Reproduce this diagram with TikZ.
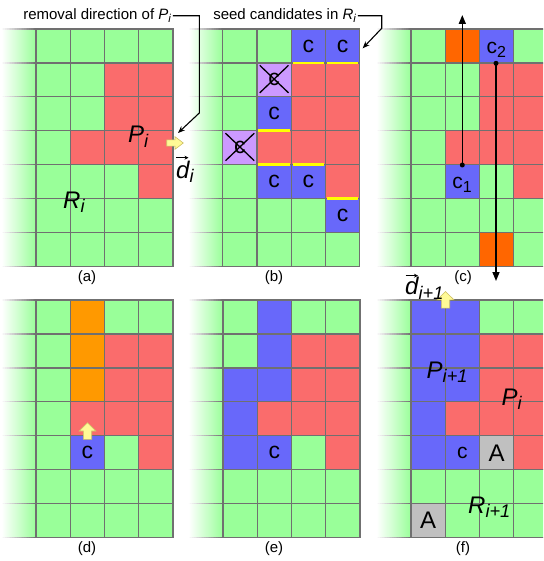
\documentclass[tikz,border=0pt]{standalone}
\usepackage{fontspec}
\setmainfont{Liberation Sans}
\renewcommand{\defaultscriptratio}{.76}
\usetikzlibrary{arrows.meta}
\definecolor{cG}{RGB}{153,255,153}
\definecolor{cR}{RGB}{250,108,108}
\definecolor{cB}{RGB}{104,104,250}
\definecolor{cO}{RGB}{255,102,0}
\definecolor{cY}{RGB}{255,153,0}
\definecolor{cA}{RGB}{192,192,192}
\definecolor{cP}{RGB}{204,153,255}
\definecolor{gridc}{RGB}{112,112,112}
\definecolor{seamc}{RGB}{255,255,0}
\definecolor{yafill}{RGB}{255,250,150}
\definecolor{yadraw}{RGB}{205,190,100}

\newcommand{\mycells}[1]{%
  \shade[left color=white,right color=cG] (0,0) rectangle (1,7);
  \foreach \rr [count=\j from 0] in {#1} {
    \foreach \cc [count=\i] in \rr { \fill[fill=c\cc] (\i,\j) rectangle ++(1,1); }
  }}
\newcommand{\mygrid}{%
  \foreach \j in {0,...,7} {
    \foreach \k [evaluate=\k as \p using int(5*\k+3)] in {0,...,19}
      \draw[line width=1.2pt, draw=gridc!\p!white] ({\k/20},\j) -- ({(\k+1)/20},\j);
    \draw[gl] (1,\j) -- (5,\j);
  }
  \foreach \i in {1,...,5} \draw[gl] (\i,0) -- (\i,7);}
\newcommand{\myuparrow}[2]{%
  \filldraw[yarrow] (#1,#2) -- ++(8.4,8.3) -- ++(-4.2,0) -- ++(0,8.3) -- ++(-8.4,0) -- ++(0,-8.3) -- ++(-4.2,0) -- cycle;}

\begin{document}
\begin{tikzpicture}[x=1pt,y=-1pt,
  gl/.style={draw=gridc,line width=1.2pt,line cap=rect},
  seam/.style={draw=seamc,line width=2.7pt},
  cross/.style={draw=black,line width=1.3pt},
  yarrow/.style={fill=yafill,draw=yadraw,line width=0.6pt,line join=miter},
  toplbl/.style={font=\fontsize{15}{17}\selectfont,inner sep=1pt},
  captxt/.style={font=\fontsize{15}{18}\selectfont,inner sep=0pt},
  big/.style={font=\fontsize{24}{24}\selectfont\itshape,inner sep=0pt},
  dlbl/.style={font=\fontsize{24}{24}\selectfont\itshape,inner sep=0pt},
  ctext/.style={font=\fontsize{23}{23}\selectfont,inner sep=0pt},
  ftext/.style={font=\fontsize{21}{21}\selectfont,inner sep=0pt},
  atext/.style={font=\fontsize{24}{24}\selectfont,inner sep=0pt},
  conn/.style={draw=black,line width=1.1pt,-{Stealth[length=7pt,width=5.5pt]}},
  vec/.style={draw=black,line width=0.9pt,-{Stealth[length=4pt,width=4pt]}},
  varrow/.style={draw=black,line width=1.5pt,-{Triangle[length=9pt,width=7pt]}},
  dot/.style={circle,fill=black,inner sep=0pt,minimum size=5pt}]
\useasboundingbox (0,0) rectangle (543,561);
\clip (0,0) rectangle (543,561);

% ---------- (a)
\begin{scope}[shift={(1.75,29)},x=34.25pt,y=-33.95pt]
  \mycells{{G,G,G,G},{G,G,R,R},{G,G,R,R},{G,R,R,R},{G,G,G,R},{G,G,G,G},{G,G,G,G}}
  \mygrid
\end{scope}

% ---------- (b)
\begin{scope}[shift={(188.5,29)},x=34.25pt,y=-33.95pt]
  \mycells{{G,G,B,B},{G,P,R,R},{G,B,R,R},{P,R,R,R},{G,B,B,R},{G,G,G,B},{G,G,G,G}}
  \mygrid
  \foreach \x/\y in {3/1,4/1,2/3,2/4,3/4,4/5}
    \draw[seam] ({\x+0.04},\y) -- ({\x+0.96},\y);
  \node[ctext] (bc1) at (3.5,0.5) {c};
  \node[ctext] (bc2) at (4.5,0.5) {c};
  \node[ctext] (bx1) at (2.5,1.5) {c};
  \node[ctext] (bc3) at (2.5,2.5) {c};
  \node[ctext] (bx2) at (1.5,3.5) {c};
  \node[ctext] (bc4) at (2.5,4.5) {c};
  \node[ctext] (bc5) at (3.5,4.5) {c};
  \node[ctext] (bc6) at (4.5,5.5) {c};
  \foreach \x/\y in {2/1,1/3} {
    \draw[cross] ({\x+0.08},{\y+0.07}) -- ({\x+0.92},{\y+0.88});
    \draw[cross] ({\x+0.92},{\y+0.07}) -- ({\x+0.08},{\y+0.88});
  }
\end{scope}

% ---------- (c)
\begin{scope}[shift={(376.75,29)},x=34.25pt,y=-33.95pt]
  \mycells{{G,O,B,G},{G,G,R,R},{G,G,R,R},{G,R,R,R},{G,B,G,R},{G,G,G,G},{G,G,O,G}}
  \mygrid
  \node[ftext] (cc2) at (3.5,0.6) {c\textsubscript{2}};
  \node[ftext] (cc1) at (2.5,4.58) {c\textsubscript{1}};
\end{scope}

% ---------- (d)
\begin{scope}[shift={(1.75,300)},x=34.25pt,y=-33.95pt]
  \mycells{{G,Y,G,G},{G,Y,R,R},{G,Y,R,R},{G,R,R,R},{G,B,G,R},{G,G,G,G},{G,G,G,G}}
  \mygrid
  \node[ctext] (dc) at (2.5,4.5) {c};
\end{scope}

% ---------- (e)
\begin{scope}[shift={(188.7,300)},x=34.25pt,y=-33.95pt]
  \mycells{{G,B,G,G},{G,B,R,R},{B,B,R,R},{B,R,R,R},{B,B,G,R},{G,G,G,G},{G,G,G,G}}
  \mygrid
  \node[ctext] (ec) at (2.5,4.5) {c};
\end{scope}

% ---------- (f)
\begin{scope}[shift={(376.75,300)},x=34.25pt,y=-33.95pt]
  \mycells{{B,B,G,G},{B,B,R,R},{B,B,R,R},{B,R,R,R},{B,B,A,R},{G,G,G,G},{A,G,G,G}}
  \mygrid
  \node[ftext] (fc) at (2.5,4.5) {c};
  \node[atext] (fa1) at (3.5,4.5) {A};
  \node[atext] (fa2) at (1.5,6.5) {A};
\end{scope}

% ---------- yellow direction arrows
\filldraw[yarrow] (183.3,143) -- ++(-8.3,-6.3) -- ++(0,3.2) -- ++(-8.3,0) -- ++(0,6.2) -- ++(8.3,0) -- ++(0,3.2) -- cycle;
\myuparrow{87.5}{422.7}
\myuparrow{445.5}{291.5}

% ---------- labels
\node[big,anchor=base west] (Pa) at (128,142.7) {P\textsubscript{i}};
\node[big,anchor=base west] (Ra) at (63,208.3) {R\textsubscript{i}};
\node[big,anchor=base west] (Pf1) at (426.5,378.3) {P\textsubscript{i+1}};
\node[big,anchor=base west] (Pf2) at (501.5,405) {P\textsubscript{i}};
\node[big,anchor=base west] (Rf) at (468,513.3) {R\textsubscript{i+1}};

\node[dlbl,anchor=base west] (di) at (176,178.3) {d\textsubscript{i}};
\coordinate (divs) at (176,157.7); \coordinate (dive) at (188.5,157.7);
\draw[vec] (divs) -- (dive);
\node[dlbl,anchor=base west] (dip) at (405,294.5) {d\textsubscript{i+1}};
\coordinate (dipvs) at (405.5,275.7); \coordinate (dipve) at (418,275.7);
\draw[vec] (dipvs) -- (dipve);

% ---------- top labels and connectors
\node[toplbl,anchor=base] (lblA) at (97.5,19.5) {removal direction of \textit{P}\textsubscript{\textit{i}}};
\coordinate (aB1) at (199.3,15); \coordinate (aB2) at (199.3,113); \coordinate (aTip) at (178,133);
\draw[conn] (lblA.east) -- (lblA.east -| aB1) -- (aB2) -- (aTip);

\node[toplbl,anchor=base] (lblB) at (285,19.5) {seed candidates in \textit{R}\textsubscript{\textit{i}}};
\coordinate (bB1) at (381.7,15); \coordinate (bB2) at (381.7,28.3); \coordinate (bTip) at (362.7,48.3);
\draw[conn] (lblB.east) -- (lblB.east -| bB1) -- (bB2) -- (bTip);

% ---------- (c) arrows
\node[dot] (dot1) at (462.3,165) {};
\coordinate (tip1) at (462.3,15);
\draw[varrow] (dot1.center) -- (tip1);
\node[dot] (dot2) at (496,63.3) {};
\coordinate (tip2) at (496,281);
\draw[varrow] (dot2.center) -- (tip2);

% ---------- captions
\node[captxt] (capa) at (87,278) {(a)};
\node[captxt] (capb) at (274,278) {(b)};
\node[captxt] (capc) at (463,278) {(c)};
\node[captxt] (capd) at (87,549) {(d)};
\node[captxt] (cape) at (274,549) {(e)};
\node[captxt] (capf) at (463,549) {(f)};
\end{tikzpicture}
\end{document}
